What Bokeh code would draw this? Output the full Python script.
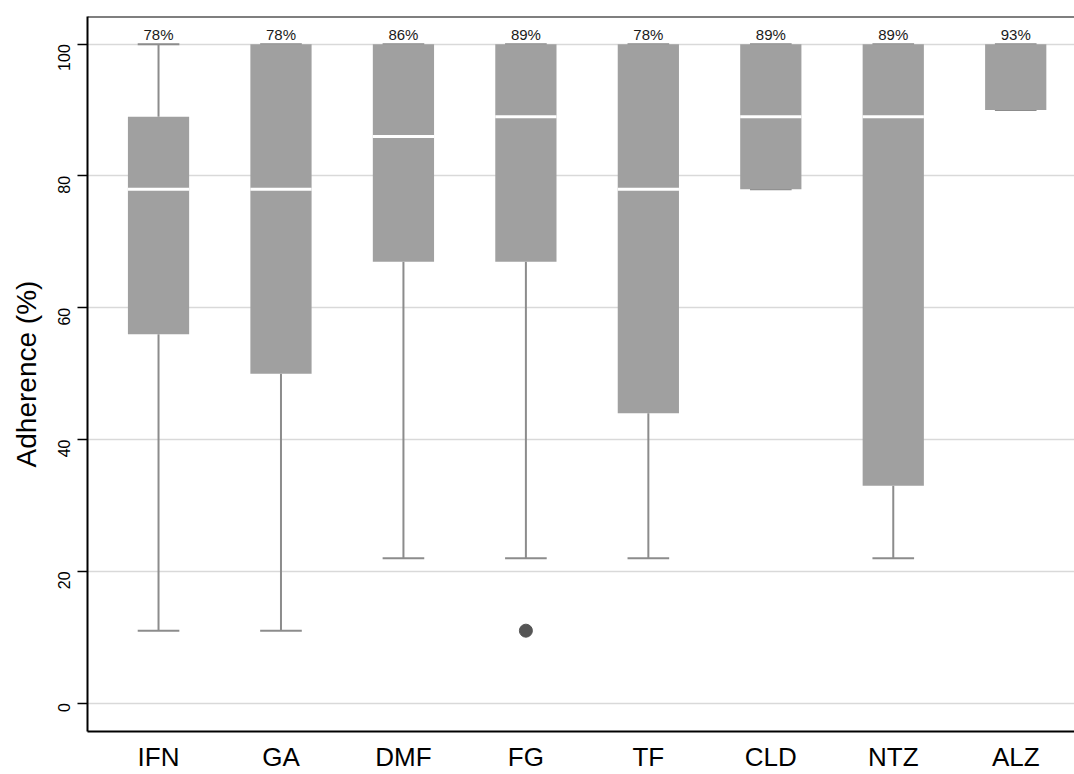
from bokeh.plotting import figure
from bokeh.models import Range1d, FixedTicker, Span, ColumnDataSource
from bokeh.core.properties import value
from bokeh.embed import file_html
from bokeh.resources import INLINE
import math

categories = ["IFN", "GA", "DMF", "FG", "TF", "CLD", "NTZ", "ALZ"]
whisker_low = [11, 11, 22, 22, 22, 78, 22, 90]
q1 = [56, 50, 67, 67, 44, 78, 33, 90]
median = [78, 78, 86, 89, 78, 89, 89, 93]
q3 = [89, 100, 100, 100, 100, 100, 100, 100]
whisker_high = [100, 100, 100, 100, 100, 100, 100, 100]
median_labels = ["78%", "78%", "86%", "89%", "78%", "89%", "89%", "93%"]
median_drawn = [True, True, True, True, True, True, True, False]
outlier_cat = ["FG"]
outlier_val = [11]
y_ticks = [0, 20, 40, 60, 80, 100]

FONT = "Liberation Sans"
xs = list(range(len(categories)))
idx = {c: i for i, c in enumerate(categories)}

p = figure(width=1074, height=774, output_backend="svg", toolbar_location=None,
           x_range=Range1d(-0.58, 7.48), y_range=Range1d(-4.3, 104.2),
           min_border_left=87, min_border_top=16, min_border_right=0, min_border_bottom=38)
p.background_fill_color = "white"
p.border_fill_color = "white"
p.outline_line_color = None

# grid
p.xgrid.visible = False
p.ygrid.ticker = FixedTicker(ticks=y_ticks)
p.ygrid.grid_line_color = "#d9d9d9"
p.ygrid.grid_line_width = 1.5

cap_w = 0.17
src = ColumnDataSource(dict(x=xs, low=whisker_low, q1=q1, med=median, q3=q3, high=whisker_high,
                            lab=median_labels))

wcol = "#8c8c8c"
# whiskers
p.segment(x0="x", y0="q3", x1="x", y1="high", source=src, line_color=wcol, line_width=2)
p.segment(x0="x", y0="low", x1="x", y1="q1", source=src, line_color=wcol, line_width=2)
# caps
caps_x0 = [x - cap_w for x in xs]
caps_x1 = [x + cap_w for x in xs]
p.segment(x0=caps_x0, y0=whisker_high, x1=caps_x1, y1=whisker_high, line_color=wcol, line_width=2)
p.segment(x0=caps_x0, y0=whisker_low, x1=caps_x1, y1=whisker_low, line_color=wcol, line_width=2)

# boxes
p.vbar(x="x", width=0.5, bottom="q1", top="q3", source=src, fill_color="#a0a0a0", line_color=None)

# medians
mx = [x for x, d in zip(xs, median_drawn) if d]
my = [m for m, d in zip(median, median_drawn) if d]
p.segment(x0=[x - 0.25 for x in mx], y0=my, x1=[x + 0.25 for x in mx], y1=my,
          line_color="white", line_width=3)

# outliers
p.scatter(x=[idx[c] for c in outlier_cat], y=outlier_val, size=13, fill_color="#555555",
          line_color="#555555")

# labels above
p.text(x="x", y="high", text="lab", source=src, text_align="center", text_baseline="bottom",
       y_offset=-1, text_font=value(FONT), text_font_size="15px", text_color="#1a1a1a")

# top frame line
p.add_layout(Span(location=104.2, dimension="width", line_color="black", line_width=2))

# axes
p.xaxis.ticker = FixedTicker(ticks=xs)
p.xaxis.major_label_overrides = {i: c for i, c in enumerate(categories)}
p.xaxis.major_tick_line_color = None
p.xaxis.minor_tick_line_color = None
p.xaxis.axis_line_width = 2
p.xaxis.axis_line_color = "black"
p.xaxis.major_label_text_font = FONT
p.xaxis.major_label_text_font_size = "26px"
p.xaxis.major_label_text_color = "black"
p.xaxis.major_label_standoff = 4

p.yaxis.ticker = FixedTicker(ticks=y_ticks)
p.yaxis.minor_tick_line_color = None
p.yaxis.axis_line_width = 2
p.yaxis.axis_line_color = "black"
p.yaxis.major_tick_line_width = 1.5
p.yaxis.major_tick_line_color = "black"
p.yaxis.major_tick_out = 10
p.yaxis.major_tick_in = 0
p.yaxis.major_label_orientation = math.pi / 2
p.yaxis.major_label_text_font = FONT
p.yaxis.major_label_text_font_size = "16px"
p.yaxis.major_label_text_color = "black"
p.yaxis.major_label_standoff = 13
p.yaxis.axis_label = "Adherence (%)"
p.yaxis.axis_label_text_font = FONT
p.yaxis.axis_label_text_font_size = "28px"
p.yaxis.axis_label_text_font_style = "normal"
p.yaxis.axis_label_text_color = "black"
p.yaxis.axis_label_standoff = 8

open("out.html", "w").write(file_html(p, INLINE))
